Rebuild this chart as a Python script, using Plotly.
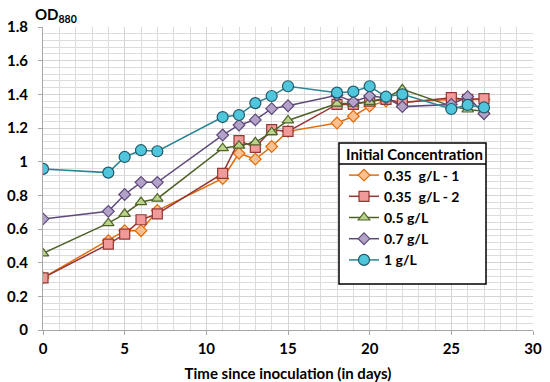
import plotly.graph_objects as go

days = [0, 4, 5, 6, 7, 11, 12, 13, 14, 15, 18, 19, 20, 21, 22, 25, 26, 27]

series_names = ["0.35\u00a0 g/L - 1", "0.35\u00a0 g/L - 2", "0.5 g/L", "0.7 g/L", "1 g/L"]

od_035_1 = [0.31, 0.53, 0.59, 0.59, 0.71, 0.90, 1.05, 1.015, 1.09, 1.18, 1.23, 1.27, 1.33, 1.36, 1.355, 1.37, 1.37, 1.37]
od_035_2 = [0.31, 0.51, 0.57, 0.655, 0.69, 0.93, 1.125, 1.085, 1.19, 1.18, 1.34, 1.34, 1.36, 1.37, 1.35, 1.38, 1.37, 1.375]
od_05 = [0.455, 0.635, 0.69, 0.76, 0.78, 1.08, 1.095, 1.115, 1.175, 1.245, 1.345, 1.345, 1.355, 1.38, 1.43, 1.33, 1.31, 1.30]
od_07 = [0.66, 0.705, 0.805, 0.877, 0.877, 1.158, 1.218, 1.248, 1.315, 1.332, 1.395, 1.355, 1.39, 1.38, 1.327, 1.34, 1.386, 1.285]
od_1 = [0.957, 0.935, 1.028, 1.068, 1.062, 1.265, 1.277, 1.348, 1.39, 1.448, 1.41, 1.416, 1.448, 1.386, 1.40, 1.313, 1.337, 1.322]

y_tickvals = [0, 0.2, 0.4, 0.6, 0.8, 1.0, 1.2, 1.4, 1.6, 1.8]
y_ticktext = ["0", "0.2", "0.4", "0.6", "0.8", "1", "1.2", "1.4", "1.6", "1.8"]
x_tickvals = [0, 5, 10, 15, 20, 25, 30]

values = [od_035_1, od_035_2, od_05, od_07, od_1]
styles = [
    dict(symbol="diamond", size=9, fill="#FAC090", edge="#E46C0A", line="#E46C0A"),
    dict(symbol="square", size=10, fill="#F09A9A", edge="#953735", line="#953735"),
    dict(symbol="triangle-up", size=10, fill="#B9D48A", edge="#4F6228", line="#4F6228"),
    dict(symbol="diamond", size=9, fill="#B3A2C7", edge="#5F497A", line="#5F497A"),
    dict(symbol="circle", size=11, fill="#4FC6DB", edge="#215968", line="#2A8595"),
]

FONT = "Lato"
L, R, T, B = 43, 17, 27, 52
PW, PH = 550 - L - R, 382 - T - B


def px_x(p):
    return (p - L) / PW


def px_y(p):
    return (382 - B - p) / PH


fig = go.Figure()
for name, vals, st in zip(series_names, values, styles):
    fig.add_trace(go.Scatter(
        x=days, y=vals, name=name, mode="lines+markers",
        line=dict(color=st["line"], width=1.5),
        marker=dict(symbol=st["symbol"], size=st["size"], color=st["fill"],
                    line=dict(color=st["edge"], width=1.2)),
    ))

fig.update_layout(
    width=550, height=382,
    margin=dict(l=L, r=R, t=T, b=B),
    paper_bgcolor="white", plot_bgcolor="white",
    font=dict(family=FONT, size=15, color="black"),
    showlegend=True,
    legend=dict(
        x=px_x(344), y=px_y(140), xanchor="left", yanchor="top",
        bgcolor="rgba(0,0,0,0)", borderwidth=0,
        font=dict(family=FONT, size=14, color="black", weight="bold"),
        title=dict(text="<b>Initial Concentration</b>", side="top center",
                   font=dict(family=FONT, size=15, color="black")),
        tracegroupgap=0,
    ),
    xaxis=dict(
        range=[0, 30], tickvals=x_tickvals, showgrid=True, gridcolor="#d4d4d4", gridwidth=1,
        minor=dict(dtick=1, showgrid=True, gridcolor="#dcdcdc", gridwidth=1),
        showline=True, linecolor="#a6a6a6", linewidth=1,
        ticks="outside", ticklen=4, tickcolor="#a6a6a6",
        tickfont=dict(family=FONT, size=15, color="black", weight="bold"),
        ticklabelstandoff=1,
        title=dict(text="<b>Time since inoculation (in days)</b>",
                   font=dict(family=FONT, size=15, color="black")),
        zeroline=False, automargin=False,
    ),
    yaxis=dict(
        range=[0, 1.8], tickvals=y_tickvals, ticktext=y_ticktext,
        showgrid=True, gridcolor="#d4d4d4", gridwidth=1,
        minor=dict(dtick=0.04, tick0=0, showgrid=True, gridcolor="#dcdcdc", gridwidth=1),
        showline=True, linecolor="#a6a6a6", linewidth=1,
        ticks="outside", ticklen=4, tickcolor="#a6a6a6",
        tickfont=dict(family=FONT, size=15, color="black", weight="bold"),
        ticklabelstandoff=7,
        zeroline=False, automargin=False,
    ),
    annotations=[dict(
        text="<b>OD<sub>880</sub></b>", xref="paper", yref="paper",
        x=px_x(33), y=1.0, xanchor="left", yanchor="bottom", showarrow=False,
        font=dict(family=FONT, size=15, color="black"),
    )],
    shapes=[
        dict(type="rect", xref="paper", yref="paper", layer="above",
             x0=px_x(339), x1=px_x(486), y0=px_y(284), y1=px_y(143),
             fillcolor="white", line=dict(color="black", width=1.5)),
        dict(type="line", xref="paper", yref="paper", layer="above",
             x0=px_x(339), x1=px_x(486), y0=px_y(164), y1=px_y(164),
             line=dict(color="black", width=1.5)),
    ],
)

fig.write_html("out.html", config={"displayModeBar": False},
               post_script="document.body.style.margin='0';")
